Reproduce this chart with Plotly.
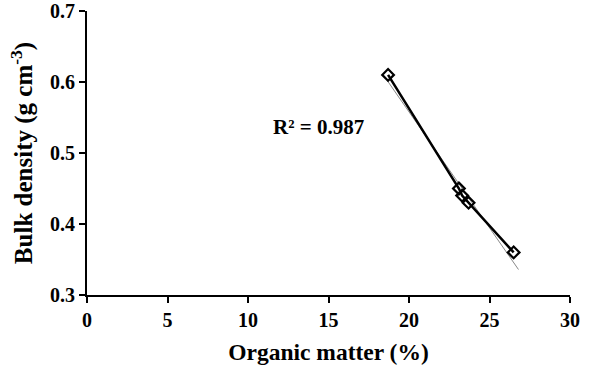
import numpy as np
import plotly.graph_objects as go

organic_matter = [18.7, 23.1, 23.3, 23.7, 26.5]
bulk_density = [0.61, 0.45, 0.44, 0.43, 0.36]
x_ticks = [0, 5, 10, 15, 20, 25, 30]
y_ticks = [0.3, 0.4, 0.5, 0.6, 0.7]
r2_label = "R² = 0.987"

slope, intercept = np.polyfit(organic_matter, bulk_density, 1)
fit_x = [min(organic_matter) - 0.1, max(organic_matter) + 0.3]
fit_y = [slope * v + intercept for v in fit_x]

font = "Liberation Serif, Times New Roman, serif"

fig = go.Figure()
fig.add_trace(go.Scatter(x=fit_x, y=fit_y, mode="lines",
                         line=dict(color="#888888", width=1), showlegend=False))
fig.add_trace(go.Scatter(x=organic_matter, y=bulk_density, mode="lines+markers",
                         line=dict(color="black", width=2.5),
                         marker=dict(symbol="diamond-open", size=9, color="black",
                                     line=dict(width=2.2, color="black")),
                         showlegend=False))
fig.add_annotation(x=14.35, y=0.537, text=r2_label, showarrow=False,
                   font=dict(family=font, size=21, color="black", weight="bold"))

fig.update_layout(
    width=598, height=376,
    margin=dict(l=87, r=28, t=11, b=81),
    paper_bgcolor="white", plot_bgcolor="white",
    font=dict(family=font, color="black"),
    xaxis=dict(range=[0, 30], tickvals=x_ticks, automargin=False, ticklabeloverflow="allow",
               showline=True, linecolor="black", linewidth=2, ticks="outside",
               ticklen=6, tickwidth=2, tickcolor="black", showgrid=False, zeroline=False,
               tickfont=dict(size=20, family=font, weight="bold"),
               title=dict(text="Organic matter (%)", font=dict(size=23.5, family=font, weight="bold"), standoff=14)),
    yaxis=dict(range=[0.3, 0.7], tickvals=y_ticks, tickformat=".1f", automargin=False,
               ticklabeloverflow="allow",
               showline=True, linecolor="black", linewidth=2, ticks="outside",
               ticklen=6, tickwidth=2, tickcolor="black", showgrid=False, zeroline=False,
               tickfont=dict(size=20, family=font, weight="bold"),
               title=dict(text="Bulk density (g cm<sup>-3</sup>)", font=dict(size=25, family=font, weight="bold"), standoff=10)),
)
fig.write_html("out.html", config={"displayModeBar": False},
               post_script="document.body.style.margin='0';")
